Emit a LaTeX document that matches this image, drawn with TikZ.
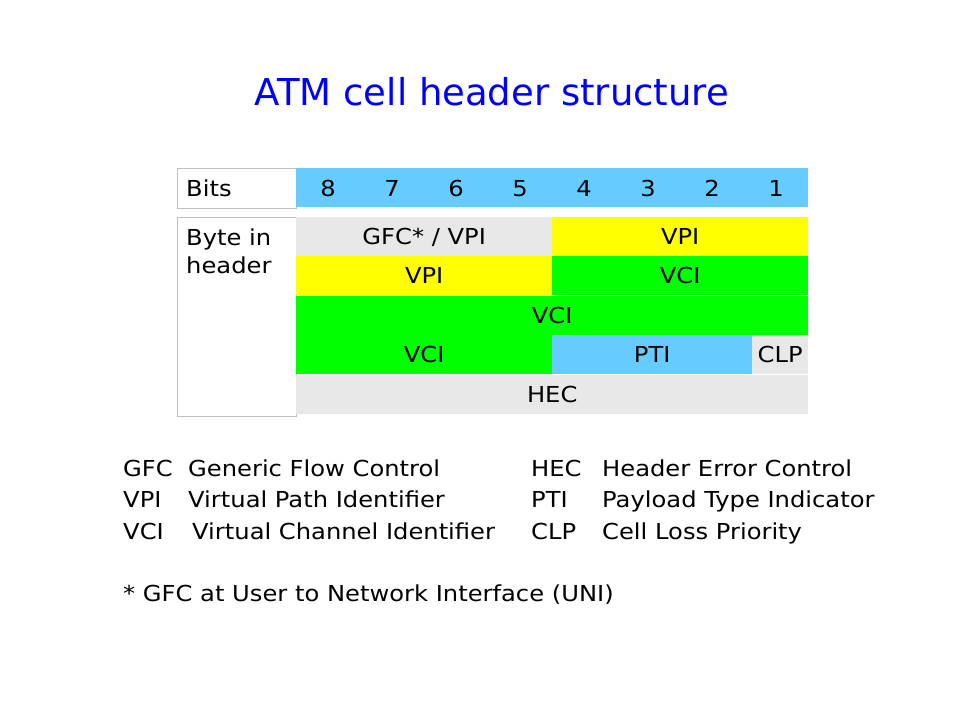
\documentclass[tikz,border=0pt]{standalone}
\usepackage{fontspec}
\setmainfont{DejaVu Sans}[FakeStretch=1.1]
\newfontfamily\titlefont{DejaVu Sans}
\definecolor{cblue}{HTML}{66CCFF}
\definecolor{cgray}{HTML}{E8E8E8}
\definecolor{cyellow}{HTML}{FFFF00}
\definecolor{cgreen}{HTML}{00FF00}
\definecolor{ctitle}{HTML}{0000FF}
\definecolor{cborder}{HTML}{C0C0C0}
\tikzset{
  txt/.style={font=\fontsize{22}{28}\selectfont, text=black},
  cell/.style={txt, anchor=north west, inner sep=0pt, minimum height=39pt, text depth=0pt},
  bitnum/.style={txt, inner sep=0pt, text depth=0pt},
  lbox/.style={anchor=north west, draw=cborder, line width=1pt, fill=white, inner sep=0pt},
  leg/.style={txt, anchor=base west, inner sep=0pt},
}
\begin{document}
\begin{tikzpicture}[x=1pt,y=-1pt]
\useasboundingbox (0,0) rectangle (960,720);
% title
\node[text=ctitle, font=\titlefont\fontsize{37}{44}\selectfont, inner sep=0pt, anchor=base] (title) at (492,105) {ATM cell header structure};
% bits row
\node[lbox, minimum width=119pt, minimum height=40pt] (bitsbox) at (177,168) {};
\node[leg] (bitslbl) at (186,196) {Bits};
\node[cell, fill=cblue, minimum width=512pt, minimum height=39pt] (bitsbar) at (296,168) {};
\foreach \i in {1,...,8}{
  \node[bitnum] (bit\i) at ({328+64*(8-\i)},188) {\i};
}
% byte in header box
\node[lbox, minimum width=119pt, minimum height=199pt] (bytebox) at (177,217) {};
\node[leg] (bytelbl1) at (186,245) {Byte in};
\node[leg] (bytelbl2) at (186,273) {header};
% rows
\node[cell, fill=cgray, minimum width=256pt] (r1a) at (296,217) {GFC* / VPI};
\node[cell, fill=cyellow, minimum width=256pt] (r1b) at (552,217) {VPI};
\node[cell, fill=cyellow, minimum width=256pt] (r2a) at (296,256) {VPI};
\node[cell, fill=cgreen, minimum width=256pt] (r2b) at (552,256) {VCI};
\node[cell, fill=cgreen, minimum width=512pt] (r3) at (296,296) {VCI};
\node[cell, fill=cgreen, minimum width=256pt] (r4a) at (296,335) {VCI};
\node[cell, fill=cblue, minimum width=200pt] (r4b) at (552,335) {PTI};
\node[cell, fill=cgray, minimum width=56pt] (r4c) at (752,335) {CLP};
\node[cell, fill=cgray, minimum width=512pt] (r5) at (296,375) {HEC};
% legend
\node[leg] (lg1a) at (123,476) {GFC};
\node[leg] (lg1b) at (188,476) {Generic Flow Control};
\node[leg] (lg2a) at (123,507) {VPI};
\node[leg] (lg2b) at (188,507) {Virtual Path Identifier};
\node[leg] (lg3a) at (123,539) {VCI};
\node[leg] (lg3b) at (192,539) {Virtual Channel Identifier};
\node[leg] (lg4a) at (531,476) {HEC};
\node[leg] (lg4b) at (602,476) {Header Error Control};
\node[leg] (lg5a) at (531,507) {PTI};
\node[leg] (lg5b) at (602,507) {Payload Type Indicator};
\node[leg] (lg6a) at (531,539) {CLP};
\node[leg] (lg6b) at (602,539) {Cell Loss Priority};
\node[leg] (foot) at (123,601) {* GFC at User to Network Interface (UNI)};
\end{tikzpicture}
\end{document}
